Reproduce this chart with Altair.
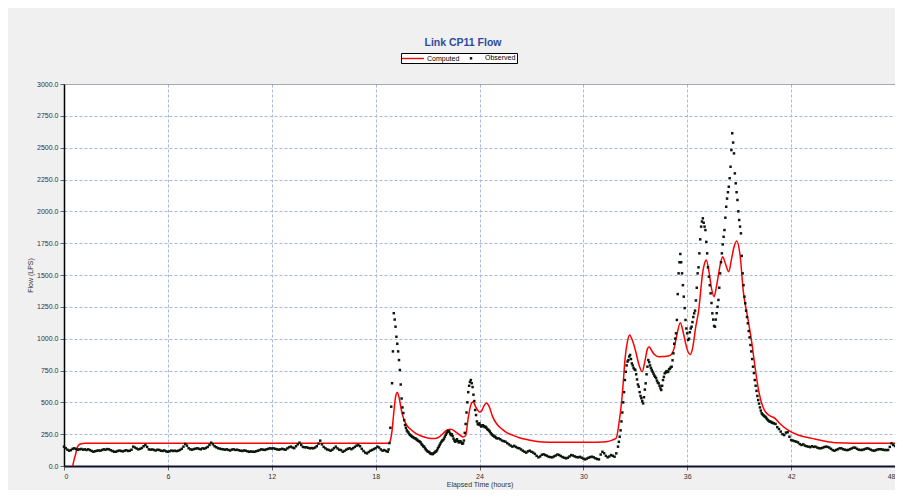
import altair as alt
import pandas as pd
import numpy as np

# ---------------- data ----------------
# Observed flow (LPS), segment A: 0.0 h .. 18.7 h every 0.1 h
obs_a_start, obs_a_step = 0.0, 0.1
obs_a = [
    152, 140, 128, 120, 125, 135, 139, 133, 128, 131,
    134, 128, 131, 126, 131, 125, 118, 112, 116, 120,
    122, 120, 126, 131, 128, 133, 131, 124, 118, 112,
    112, 118, 121, 118, 115, 120, 124, 118, 120, 128,
    152, 145, 137, 131, 135, 142, 155, 165, 150, 131,
    128, 130, 126, 122, 128, 126, 120, 118, 122, 115,
    112, 116, 121, 118, 120, 117, 120, 126, 135, 152,
    173, 160, 140, 131, 128, 133, 136, 139, 135, 131,
    139, 136, 142, 150, 165, 183, 170, 155, 147, 140,
    136, 133, 131, 128, 131, 126, 122, 129, 131, 126,
    128, 124, 120, 118, 122, 120, 115, 112, 114, 112,
    112, 116, 120, 125, 131, 128, 126, 131, 135, 139,
    137, 139, 135, 131, 128, 131, 135, 131, 128, 138,
    147, 152, 145, 140, 155, 170, 183, 165, 150, 147,
    147, 143, 139, 141, 139, 145, 155, 175, 199, 170,
    150, 139, 130, 126, 120, 128, 140, 152, 138, 128,
    125, 112, 118, 128, 135, 139, 132, 140, 150, 160,
    165, 155, 135, 118, 105, 99, 110, 120, 126, 133,
    140, 152, 145, 130, 120, 125, 118, 112,
]
# segment B: 18.75 h .. 25.0 h every 0.05 h
obs_b_start, obs_b_step = 18.75, 0.05
obs_b = [
    130, 180, 300, 466, 650, 900, 1200, 1150, 1094, 1015,
    960, 900, 832, 754, 640, 530, 460, 416, 360, 322,
    300, 280, 270, 262, 250, 243, 238, 230, 228, 222,
    218, 217, 210, 205, 198, 195, 191, 185, 172, 165,
    155, 152, 140, 130, 122, 115, 112, 108, 100, 97,
    94, 94, 100, 105, 112, 115, 125, 140, 152, 165,
    178, 190, 200, 204, 215, 230, 245, 258, 270, 275,
    270, 255, 243, 250, 235, 215, 200, 191, 200, 210,
    195, 185, 191, 195, 185, 175, 178, 200, 260, 330,
    420, 500, 580, 630, 660, 675, 650, 620, 560, 510,
    440, 400, 350, 330, 325, 335, 320, 310, 315, 320,
    312, 305, 309, 300, 290, 285, 278, 270, 258, 250,
    243, 238, 232, 230, 222, 217,
]
# segment C: 25.1 h .. 31.9 h every 0.1 h
obs_c_start, obs_c_step = 25.1, 0.1
obs_c = [
    217, 210, 200, 195, 191, 180, 170, 160, 152, 158,
    150, 142, 139, 130, 120, 112, 105, 115, 120, 112,
    105, 95, 80, 68, 75, 88, 92, 86, 80, 72,
    70, 68, 75, 82, 90, 86, 78, 70, 65, 60,
    65, 75, 86, 82, 75, 70, 68, 72, 65, 58,
    52, 58, 65, 70, 73, 68, 60, 55, 52, 90,
    112, 100, 80, 68, 75, 86, 80, 73, 99,
]
# segment D: 32.0 h .. 41.0 h every 0.05 h
obs_d_start, obs_d_step = 32.0, 0.05
obs_d = [
    152, 190, 230, 280, 350, 420, 500, 580, 675, 740,
    790, 820, 832, 860, 872, 840, 806, 790, 770, 760,
    754, 720, 680, 640, 623, 580, 550, 532, 510, 492,
    540, 600, 649, 720, 780, 832, 815, 790, 770, 754,
    740, 725, 710, 701, 690, 670, 655, 649, 630, 610,
    597, 630, 675, 700, 728, 735, 745, 738, 741, 760,
    765, 775, 780, 830, 885, 960, 1000, 1042, 1147, 1350,
    1513, 1600, 1665, 1600, 1513, 1420, 1330, 1240, 1147, 1080,
    1042, 990, 1000, 1050, 1080, 1094, 1130, 1170, 1199, 1220,
    1300, 1400, 1513, 1560, 1670, 1780, 1880, 1920, 1945, 1910,
    1880, 1853, 1760, 1670, 1560, 1487, 1420, 1356, 1280, 1199,
    1150, 1100, 1094, 1150, 1200, 1250, 1304, 1400, 1513, 1600,
    1670, 1740, 1800, 1853, 1950, 2036, 2100, 2150, 2193, 2260,
    2350, 2481, 2613, 2540, 2455, 2298, 2220, 2150, 2089, 2000,
    1932, 1880, 1827, 1650, 1513, 1420, 1330, 1278, 1220, 1170,
    1121, 1060, 1010, 950, 900, 840, 780, 730, 675, 630,
    590, 550, 518, 490, 460, 435, 414, 405, 398, 392,
    387, 380, 370, 362, 355, 350, 348, 345, 340, 338,
    335,
]
# segment E: 41.1 h .. 48.0 h every 0.1 h
obs_e_start, obs_e_step = 41.1, 0.1
obs_e = [
    330, 305, 290, 270, 250, 243, 262, 265, 230, 204,
    200, 195, 191, 185, 172, 165, 170, 160, 155, 152,
    148, 155, 150, 152, 145, 140, 139, 142, 148, 152,
    150, 145, 135, 125, 120, 126, 132, 139, 139, 132,
    128, 125, 126, 132, 138, 144, 144, 135, 128, 126,
    126, 130, 135, 139, 135, 128, 122, 120, 125, 130,
    132, 132, 128, 126, 125, 126, 150, 178, 165, 157,
]

# Computed flow (LPS): time (h) and value
comp_time = [
    0.50, 0.55, 0.60, 0.65, 0.70, 0.75, 0.85, 1.00, 1.20, 18.75,
    18.85, 18.95, 19.05, 19.15, 19.25, 19.35, 19.50, 19.65, 19.80, 20.00,
    20.30, 20.60, 20.90, 21.20, 21.45, 21.70, 21.95, 22.15, 22.35, 22.60,
    22.85, 23.05, 23.20, 23.35, 23.50, 23.62, 23.80, 24.00, 24.10, 24.25,
    24.40, 24.55, 24.75, 25.00, 25.30, 25.60, 25.90, 26.30, 26.85, 27.60,
    28.50, 29.70, 30.50, 31.30, 31.70, 31.90, 32.05, 32.20, 32.30, 32.40,
    32.55, 32.67, 32.85, 33.00, 33.20, 33.40, 33.55, 33.70, 33.80, 33.95,
    34.10, 34.35, 34.60, 34.90, 35.10, 35.25, 35.40, 35.60, 35.75, 35.90,
    36.05, 36.17, 36.30, 36.50, 36.65, 36.90, 37.05, 37.10, 37.25, 37.40,
    37.55, 37.70, 37.90, 38.05, 38.20, 38.40, 38.55, 38.70, 38.86, 39.05,
    39.24, 39.50, 39.72, 39.90, 40.10, 40.40, 40.70, 41.07, 41.30, 41.80,
    42.40, 43.20, 44.10, 45.10, 46.00, 48.00,
]
comp_flow = [
    0, 30, 60, 80, 110, 140, 165, 175, 178, 178,
    200, 280, 420, 540, 578, 540, 430, 360, 320, 290,
    258, 238, 224, 216, 215, 230, 262, 285, 288, 270,
    245, 228, 240, 380, 480, 505, 460, 425, 428, 470,
    494, 470, 390, 330, 290, 260, 243, 222, 204, 188,
    186, 186, 187, 191, 205, 220, 330, 495, 650, 832,
    980, 1029, 980, 911, 800, 741, 820, 920, 937, 905,
    875, 858, 860, 864, 880, 930, 1030, 1125, 1060, 966,
    895, 875, 920, 1100, 1212, 1526, 1610, 1618, 1530, 1395,
    1330, 1420, 1578, 1644, 1590, 1526, 1620, 1720, 1767, 1657,
    1369, 1160, 976, 793, 610, 453, 400, 374, 340, 283,
    243, 217, 191, 180, 178, 178,
]

series_names = ["Computed", "Observed"]
series_colors = ["#ff0000", "#0a160a"]
x_ticks = [0, 6, 12, 18, 24, 30, 36, 42, 48]
y_ticks = [0, 250, 500, 750, 1000, 1250, 1500, 1750, 2000, 2250, 2500, 2750, 3000]

# ---------------- tables ----------------
def seg(start, step, vals):
    t = start + step * np.arange(len(vals))
    return pd.DataFrame({"time": np.round(t, 3), "flow": vals})

obs_df = pd.concat([
    seg(obs_a_start, obs_a_step, obs_a),
    seg(obs_b_start, obs_b_step, obs_b),
    seg(obs_c_start, obs_c_step, obs_c),
    seg(obs_d_start, obs_d_step, obs_d),
    seg(obs_e_start, obs_e_step, obs_e),
], ignore_index=True)
obs_df["series"] = "Observed"

comp_df = pd.DataFrame({"time": comp_time, "flow": comp_flow, "series": "Computed"})

FONT = "Liberation Sans"
LINE_PATH = "M-3.67,0L3.67,0"
DOT_PATH = "M-0.18,-0.18L0.18,-0.18L0.18,0.18L-0.18,0.18Z"

legend = alt.Legend(
    title=None, orient="none", legendX=337, legendY=-31, direction="horizontal",
    fillColor="white", strokeColor="black", padding=1,
    symbolSize=36, symbolStrokeWidth=1.4, symbolOffset=7, labelOffset=10,
    columnPadding=0, labelFont=FONT, labelFontSize=7, labelColor="#000000",
)

color_enc = alt.Color("series:N", scale=alt.Scale(domain=series_names, range=series_colors), legend=legend)
shape_enc = alt.Shape("series:N", scale=alt.Scale(domain=series_names, range=[LINE_PATH, DOT_PATH]), legend=legend)

x_enc = alt.X(
    "time:Q", scale=alt.Scale(domain=[0, 48], nice=False),
    axis=alt.Axis(values=x_ticks, format="d", title="Elapsed Time (hours)",
                  domainColor="#101030", domainWidth=2, titlePadding=1),
)
y_enc = alt.Y(
    "flow:Q", scale=alt.Scale(domain=[0, 3000], nice=False),
    axis=alt.Axis(values=y_ticks, format=".1f", title="Flow (LPS)",
                  domainColor="#000000", domainWidth=1.5, titlePadding=3,
                  gridDash={"condition": {"test": "datum.value === 3000", "value": [1, 0]}, "value": [3, 2]},
                  gridColor={"condition": {"test": "datum.value === 3000", "value": "#8c8c96"}, "value": "#aab6dc"}),
)

line = alt.Chart(comp_df).mark_line(strokeWidth=1.5, interpolate="monotone").encode(
    x=x_enc, y=y_enc, color=color_enc
)
points = alt.Chart(obs_df).mark_point(filled=False, size=36, strokeWidth=1.4, opacity=1).encode(
    x=x_enc, y=y_enc, color=color_enc, shape=shape_enc
)

chart = alt.layer(line, points).properties(
    width=831, height=382,
    autosize=alt.AutoSizeParams(type="none"),
    padding={"left": 56, "top": 76, "right": 0, "bottom": 24},
    background="#eff0ef",
    title=alt.TitleParams("Link CP11 Flow", font=FONT, fontSize=10.5, fontWeight="bold",
                          color="#2e4a9e", anchor="middle", dx=-16.5, offset=4),
).configure_view(fill="white", stroke="transparent").configure_axis(
    labelFont=FONT, labelFontSize=7, labelColor="#333333",
    titleFont=FONT, titleFontSize=7, titleFontWeight="normal", titleColor="#333333",
    tickColor="#666666", tickSize=4, labelPadding=2,
    gridColor="#aab6dc", gridDash=[3, 2], gridWidth=1,
)

chart.save("out.html", embed_options={"renderer": "svg", "actions": False})
